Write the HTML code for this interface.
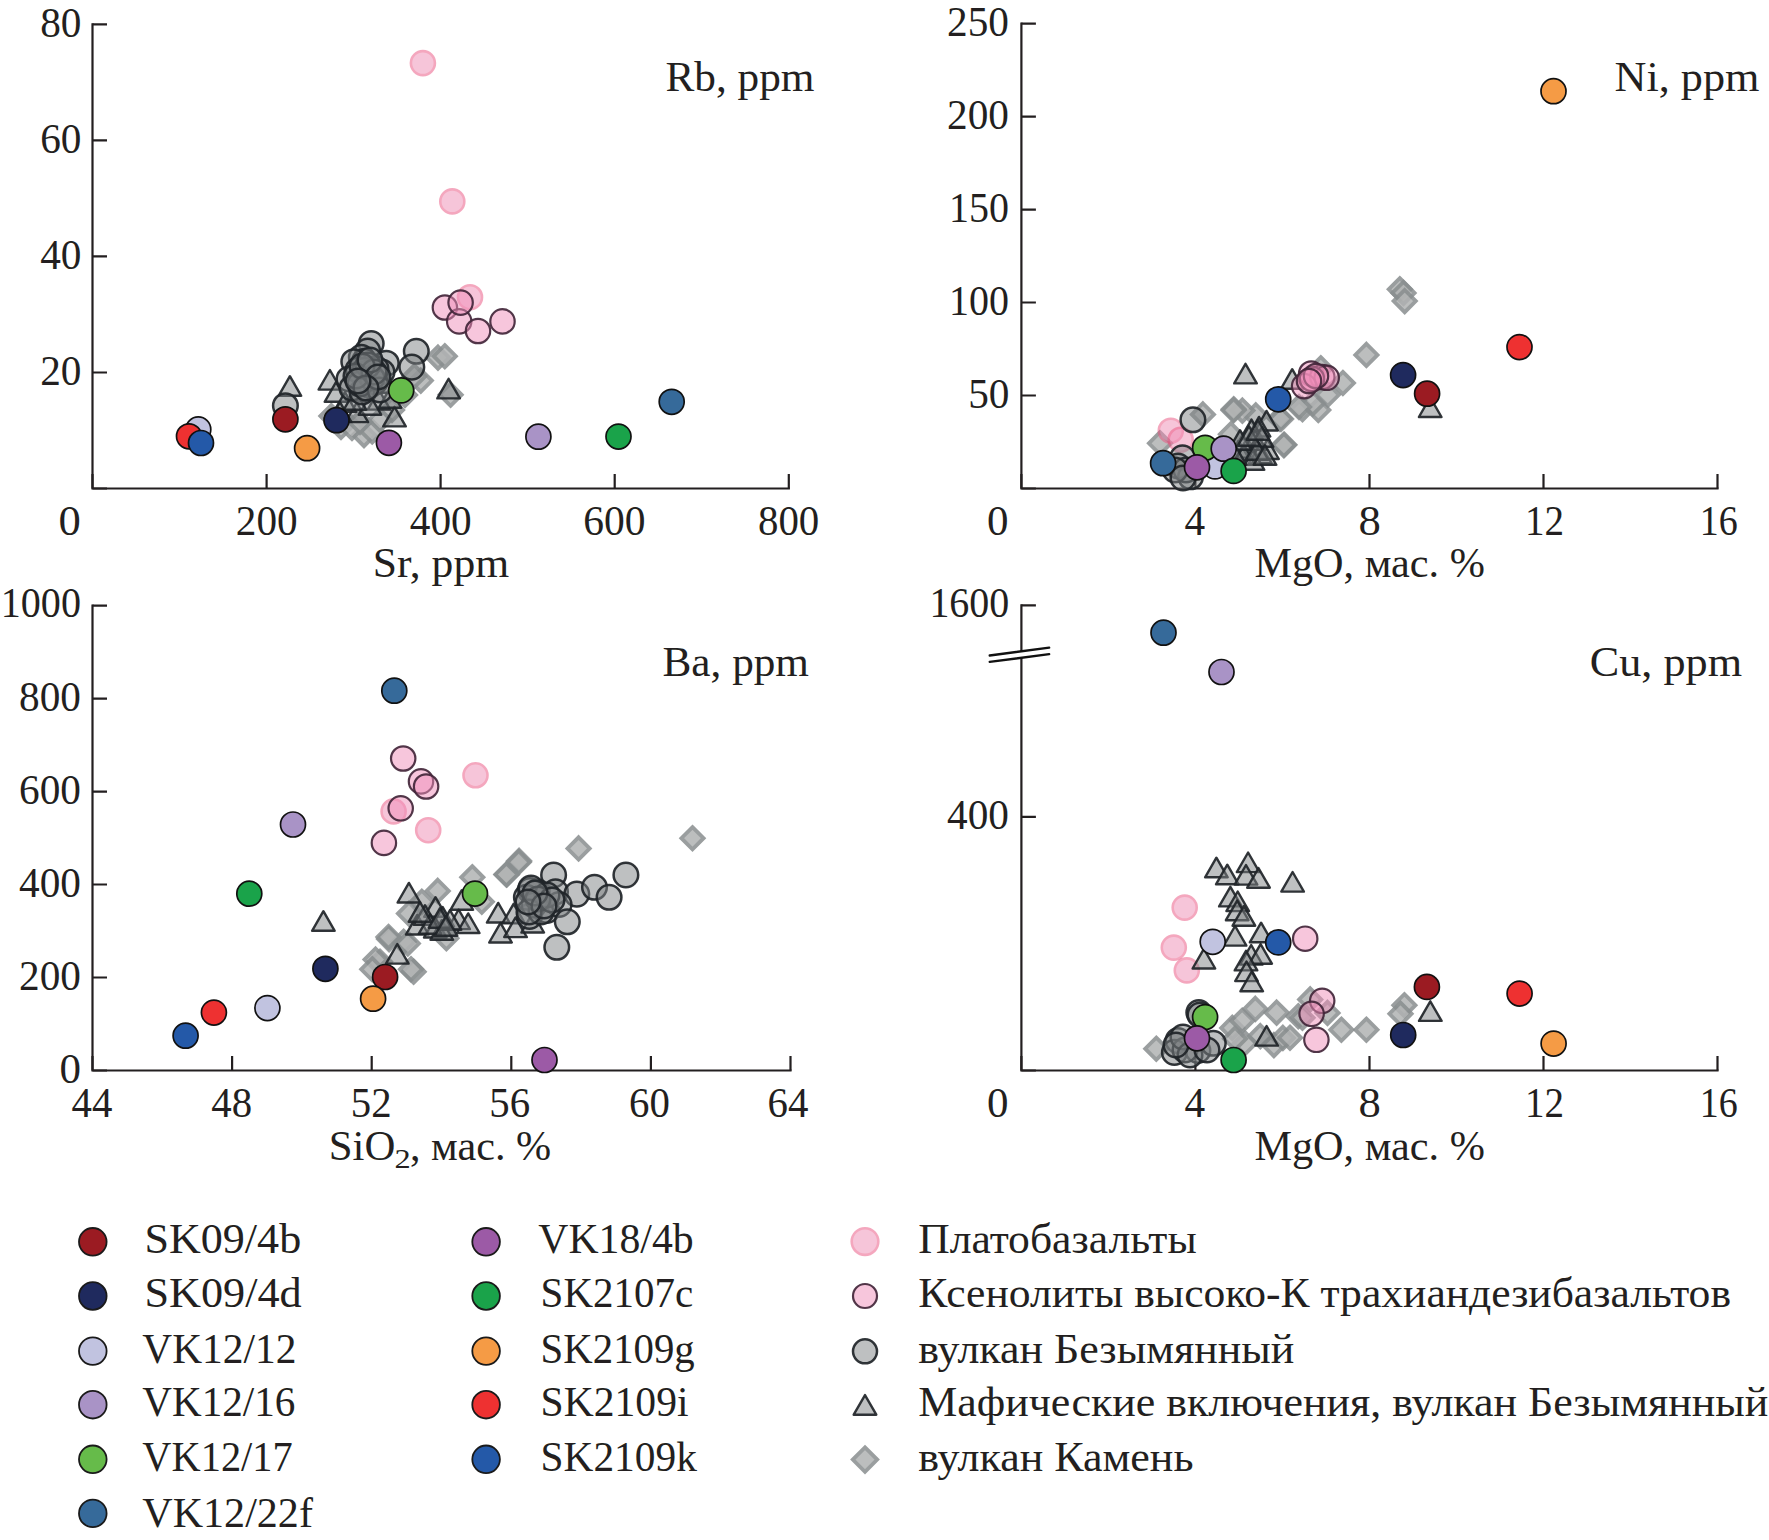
<!DOCTYPE html>
<html><head><meta charset="utf-8"><style>
html,body{margin:0;padding:0;background:#fff;}
svg{display:block;}
.dm{fill:rgb(177,179,179);stroke:rgb(137,142,143);stroke-width:3.8;opacity:0.85;stroke-linejoin:miter}
.tr{fill:rgb(126,129,132);fill-opacity:0.5;stroke:#202428;stroke-opacity:0.92;stroke-width:2.4;stroke-linejoin:round}
.gc{fill:rgb(126,129,132);fill-opacity:0.5;stroke:#202428;stroke-opacity:0.92;stroke-width:2.5}
.pl{fill:rgb(239,141,181);stroke:rgb(235,82,127);stroke-width:2.6;opacity:0.5}
.xe{fill:rgb(239,141,185);fill-opacity:0.5;stroke:#42263a;stroke-opacity:0.92;stroke-width:2.2}
.cc{stroke:#111;stroke-width:1.7}
text{font-family:"Liberation Serif",serif;fill:#231f20;}
</style></head><body>
<svg width="1769" height="1540" viewBox="0 0 1769 1540">
<rect width="1769" height="1540" fill="#fff"/>
<path d="M92.5,24.4 V488.5 H788.8" fill="none" stroke="#231f20" stroke-width="2.2" stroke-linecap="square"/>
<path d="M92.5,488.5 V474.0M266.6,488.5 V474.0M440.6,488.5 V474.0M614.7,488.5 V474.0M788.8,488.5 V474.0M92.5,488.5 H107.0M92.5,372.5 H107.0M92.5,256.4 H107.0M92.5,140.4 H107.0M92.5,24.4 H107.0" fill="none" stroke="#231f20" stroke-width="2.2"/>
<path d="M1021.4,23.6 V488.5 H1717.5" fill="none" stroke="#231f20" stroke-width="2.2" stroke-linecap="square"/>
<path d="M1021.4,488.5 V474.0M1195.4,488.5 V474.0M1369.5,488.5 V474.0M1543.5,488.5 V474.0M1717.5,488.5 V474.0M1021.4,488.5 H1035.9M1021.4,395.5 H1035.9M1021.4,302.5 H1035.9M1021.4,209.6 H1035.9M1021.4,116.6 H1035.9M1021.4,23.6 H1035.9" fill="none" stroke="#231f20" stroke-width="2.2"/>
<path d="M92.5,605.6 V1070.5 H790.5" fill="none" stroke="#231f20" stroke-width="2.2" stroke-linecap="square"/>
<path d="M92.5,1070.5 V1056.0M232.1,1070.5 V1056.0M371.7,1070.5 V1056.0M511.3,1070.5 V1056.0M650.9,1070.5 V1056.0M790.5,1070.5 V1056.0M92.5,1070.5 H107.0M92.5,977.5 H107.0M92.5,884.5 H107.0M92.5,791.6 H107.0M92.5,698.6 H107.0M92.5,605.6 H107.0" fill="none" stroke="#231f20" stroke-width="2.2"/>
<path d="M1021.4,605.4 V1070.5 H1717.5" fill="none" stroke="#231f20" stroke-width="2.2" stroke-linecap="square"/>
<path d="M1021.4,1070.5 V1056.0M1195.4,1070.5 V1056.0M1369.5,1070.5 V1056.0M1543.5,1070.5 V1056.0M1717.5,1070.5 V1056.0M1021.4,1070.5 H1035.9" fill="none" stroke="#231f20" stroke-width="2.2"/>
<path d="M1021.4,816.8 H1035.9 M1021.4,605.4 H1035.9" stroke="#231f20" stroke-width="2.2"/>
<text transform="translate(40.14,36.60) scale(0.9600,1)" font-size="43">80</text>
<text transform="translate(40.14,152.70) scale(0.9600,1)" font-size="43">60</text>
<text transform="translate(40.14,268.80) scale(0.9600,1)" font-size="43">40</text>
<text transform="translate(40.14,384.80) scale(0.9600,1)" font-size="43">20</text>
<text transform="translate(58.52,535.40) scale(1.0389,1)" font-size="43">0</text>
<text transform="translate(235.78,535.40) scale(0.9590,1)" font-size="43">200</text>
<text transform="translate(409.84,535.40) scale(0.9597,1)" font-size="43">400</text>
<text transform="translate(583.37,535.40) scale(0.9656,1)" font-size="43">600</text>
<text transform="translate(758.00,535.40) scale(0.9508,1)" font-size="43">800</text>
<text transform="translate(372.76,576.60) scale(1.0145,1)" font-size="43">Sr, ppm</text>
<text transform="translate(665.49,90.90) scale(1.0061,1)" font-size="43">Rb, ppm</text>
<text transform="translate(947.02,35.80) scale(0.9600,1)" font-size="43">250</text>
<text transform="translate(947.02,128.78) scale(0.9600,1)" font-size="43">200</text>
<text transform="translate(948.91,221.76) scale(0.9300,1)" font-size="43">150</text>
<text transform="translate(948.91,314.74) scale(0.9300,1)" font-size="43">100</text>
<text transform="translate(968.14,407.72) scale(0.9600,1)" font-size="43">50</text>
<text transform="translate(987.00,535.40) scale(1.0000,1)" font-size="43">0</text>
<text transform="translate(1184.44,535.40) scale(0.9600,1)" font-size="43">4</text>
<text transform="translate(1358.52,535.40) scale(1.0389,1)" font-size="43">8</text>
<text transform="translate(1524.97,535.40) scale(0.9081,1)" font-size="43">12</text>
<text transform="translate(1699.76,535.40) scale(0.8842,1)" font-size="43">16</text>
<text transform="translate(1254.42,576.70) scale(0.9819,1)" font-size="43">MgO, мас. %</text>
<text transform="translate(1614.57,90.90) scale(1.0281,1)" font-size="43">Ni, ppm</text>
<text transform="translate(0.77,617.00) scale(0.9325,1)" font-size="43">1000</text>
<text transform="translate(19.02,710.78) scale(0.9600,1)" font-size="43">800</text>
<text transform="translate(19.02,803.76) scale(0.9600,1)" font-size="43">600</text>
<text transform="translate(19.02,896.74) scale(0.9600,1)" font-size="43">400</text>
<text transform="translate(19.02,989.72) scale(0.9600,1)" font-size="43">200</text>
<text transform="translate(59.50,1082.70) scale(1.0000,1)" font-size="43">0</text>
<text transform="translate(71.58,1116.80) scale(0.9500,1)" font-size="43">44</text>
<text transform="translate(211.35,1116.80) scale(0.9500,1)" font-size="43">48</text>
<text transform="translate(350.80,1116.80) scale(0.9500,1)" font-size="43">52</text>
<text transform="translate(489.23,1116.80) scale(0.9500,1)" font-size="43">56</text>
<text transform="translate(629.08,1116.80) scale(0.9500,1)" font-size="43">60</text>
<text transform="translate(767.50,1116.80) scale(0.9500,1)" font-size="43">64</text>
<text transform="translate(328.81,1159.70) scale(0.9952,1)" font-size="43">SiO</text>
<text transform="translate(394.50,1168.30) scale(1.2000,1)" font-size="27">2</text>
<text transform="translate(409.94,1159.70) scale(0.9814,1)" font-size="43">, мас. %</text>
<text transform="translate(662.49,675.70) scale(1.0056,1)" font-size="43">Ba, ppm</text>
<text transform="translate(929.38,617.30) scale(0.9300,1)" font-size="43">1600</text>
<text transform="translate(947.02,828.50) scale(0.9600,1)" font-size="43">400</text>
<text transform="translate(987.00,1116.80) scale(1.0000,1)" font-size="43">0</text>
<text transform="translate(1184.44,1116.80) scale(0.9600,1)" font-size="43">4</text>
<text transform="translate(1358.52,1116.80) scale(1.0389,1)" font-size="43">8</text>
<text transform="translate(1524.97,1116.80) scale(0.9081,1)" font-size="43">12</text>
<text transform="translate(1699.76,1116.80) scale(0.8842,1)" font-size="43">16</text>
<text transform="translate(1254.42,1159.70) scale(0.9819,1)" font-size="43">MgO, мас. %</text>
<text transform="translate(1589.74,676.00) scale(1.0288,1)" font-size="43">Cu, ppm</text>
<text transform="translate(144.39,1252.90) scale(1.0381,1)" font-size="42.5">SK09/4b</text>
<text transform="translate(144.38,1307.00) scale(1.0412,1)" font-size="42.5">SK09/4d</text>
<text transform="translate(142.30,1362.60) scale(0.9744,1)" font-size="42.5">VK12/12</text>
<text transform="translate(142.30,1415.80) scale(0.9682,1)" font-size="42.5">VK12/16</text>
<text transform="translate(142.30,1470.60) scale(0.9516,1)" font-size="42.5">VK12/17</text>
<text transform="translate(142.30,1526.70) scale(0.9902,1)" font-size="42.5">VK12/22f</text>
<text transform="translate(538.30,1252.90) scale(0.9828,1)" font-size="42.5">VK18/4b</text>
<text transform="translate(540.61,1307.00) scale(0.9649,1)" font-size="42.5">SK2107c</text>
<text transform="translate(540.62,1362.60) scale(0.9599,1)" font-size="42.5">SK2109g</text>
<text transform="translate(540.56,1416.00) scale(0.9796,1)" font-size="42.5">SK2109i</text>
<text transform="translate(540.58,1470.60) scale(0.9734,1)" font-size="42.5">SK2109k</text>
<text transform="translate(918.17,1252.90) scale(1.0259,1)" font-size="42.5">Платобазальты</text>
<text transform="translate(918.17,1307.00) scale(1.0259,1)" font-size="42.5">Ксенолиты высоко-К трахиандезибазальтов</text>
<text transform="translate(918.17,1362.60) scale(1.0337,1)" font-size="42.5">вулкан Безымянный</text>
<text transform="translate(918.17,1415.80) scale(1.0338,1)" font-size="42.5">Мафические включения, вулкан Безымянный</text>
<text transform="translate(918.16,1470.60) scale(1.0352,1)" font-size="42.5">вулкан Камень</text>
<polygon points="989.7,655.5 1049.2,647.6 1049.2,654.2 989.7,661.9" fill="#fff"/>
<path d="M989.7,655.5 L1049.2,647.6 M989.7,661.9 L1049.2,654.2" stroke="#111" stroke-width="2.3" stroke-linecap="round"/>
<path d="M438.0,346.5 L449.1,357.6 L438.0,368.7 L426.9,357.6Z" class="dm"/>
<path d="M444.8,345.1 L455.9,356.2 L444.8,367.3 L433.7,356.2Z" class="dm"/>
<path d="M420.8,369.5 L431.9,380.6 L420.8,391.7 L409.7,380.6Z" class="dm"/>
<path d="M450.6,383.6 L461.7,394.7 L450.6,405.8 L439.5,394.7Z" class="dm"/>
<path d="M414.3,365.2 L425.4,376.3 L414.3,387.4 L403.2,376.3Z" class="dm"/>
<path d="M331.4,405.0 L342.5,416.1 L331.4,427.2 L320.3,416.1Z" class="dm"/>
<path d="M341.0,415.9 L352.1,427.0 L341.0,438.1 L329.9,427.0Z" class="dm"/>
<path d="M364.0,424.0 L375.1,435.1 L364.0,446.2 L352.9,435.1Z" class="dm"/>
<path d="M372.2,420.4 L383.3,431.5 L372.2,442.6 L361.1,431.5Z" class="dm"/>
<path d="M352.0,416.9 L363.1,428.0 L352.0,439.1 L340.9,428.0Z" class="dm"/>
<path d="M380.0,408.9 L391.1,420.0 L380.0,431.1 L368.9,420.0Z" class="dm"/>
<path d="M360.0,410.9 L371.1,422.0 L360.0,433.1 L348.9,422.0Z" class="dm"/>
<path d="M392.0,398.9 L403.1,410.0 L392.0,421.1 L380.9,410.0Z" class="dm"/>
<path d="M405.0,383.9 L416.1,395.0 L405.0,406.1 L393.9,395.0Z" class="dm"/>
<path d="M1399.8,278.2 L1410.9,289.3 L1399.8,300.4 L1388.7,289.3Z" class="dm"/>
<path d="M1403.5,281.9 L1414.6,293.0 L1403.5,304.1 L1392.4,293.0Z" class="dm"/>
<path d="M1404.7,290.0 L1415.8,301.1 L1404.7,312.2 L1393.6,301.1Z" class="dm"/>
<path d="M1366.4,343.8 L1377.5,354.9 L1366.4,366.0 L1355.3,354.9Z" class="dm"/>
<path d="M1320.8,357.1 L1331.9,368.2 L1320.8,379.3 L1309.7,368.2Z" class="dm"/>
<path d="M1342.9,371.9 L1354.0,383.0 L1342.9,394.1 L1331.8,383.0Z" class="dm"/>
<path d="M1327.8,383.7 L1338.9,394.8 L1327.8,405.9 L1316.7,394.8Z" class="dm"/>
<path d="M1302.5,398.0 L1313.6,409.1 L1302.5,420.2 L1291.4,409.1Z" class="dm"/>
<path d="M1318.3,398.8 L1329.4,409.9 L1318.3,421.0 L1307.2,409.9Z" class="dm"/>
<path d="M1312.8,392.4 L1323.9,403.5 L1312.8,414.6 L1301.7,403.5Z" class="dm"/>
<path d="M1279.6,407.5 L1290.7,418.6 L1279.6,429.7 L1268.5,418.6Z" class="dm"/>
<path d="M1284.3,433.6 L1295.4,444.7 L1284.3,455.8 L1273.2,444.7Z" class="dm"/>
<path d="M1255.8,404.3 L1266.9,415.4 L1255.8,426.5 L1244.7,415.4Z" class="dm"/>
<path d="M1242.4,399.5 L1253.5,410.6 L1242.4,421.7 L1231.3,410.6Z" class="dm"/>
<path d="M1233.7,398.2 L1244.8,409.3 L1233.7,420.4 L1222.6,409.3Z" class="dm"/>
<path d="M1202.9,403.3 L1214.0,414.4 L1202.9,425.5 L1191.8,414.4Z" class="dm"/>
<path d="M1233.6,399.2 L1244.7,410.3 L1233.6,421.4 L1222.5,410.3Z" class="dm"/>
<path d="M1160.0,432.2 L1171.1,443.3 L1160.0,454.4 L1148.9,443.3Z" class="dm"/>
<path d="M1283.8,434.0 L1294.9,445.1 L1283.8,456.2 L1272.7,445.1Z" class="dm"/>
<path d="M1281.0,407.8 L1292.1,418.9 L1281.0,430.0 L1269.9,418.9Z" class="dm"/>
<path d="M1230.9,423.2 L1242.0,434.3 L1230.9,445.4 L1219.8,434.3Z" class="dm"/>
<path d="M1299.0,395.9 L1310.1,407.0 L1299.0,418.1 L1287.9,407.0Z" class="dm"/>
<path d="M692.5,827.1 L703.6,838.2 L692.5,849.3 L681.4,838.2Z" class="dm"/>
<path d="M578.6,837.3 L589.7,848.4 L578.6,859.5 L567.5,848.4Z" class="dm"/>
<path d="M519.1,849.8 L530.2,860.9 L519.1,872.0 L508.0,860.9Z" class="dm"/>
<path d="M506.8,863.4 L517.9,874.5 L506.8,885.6 L495.7,874.5Z" class="dm"/>
<path d="M518.7,851.2 L529.8,862.3 L518.7,873.4 L507.6,862.3Z" class="dm"/>
<path d="M472.3,866.2 L483.4,877.3 L472.3,888.4 L461.2,877.3Z" class="dm"/>
<path d="M506.4,863.4 L517.5,874.5 L506.4,885.6 L495.3,874.5Z" class="dm"/>
<path d="M437.7,879.8 L448.8,890.9 L437.7,902.0 L426.6,890.9Z" class="dm"/>
<path d="M421.8,890.7 L432.9,901.8 L421.8,912.9 L410.7,901.8Z" class="dm"/>
<path d="M446.4,927.1 L457.5,938.2 L446.4,949.3 L435.3,938.2Z" class="dm"/>
<path d="M389.1,928.0 L400.2,939.1 L389.1,950.2 L378.0,939.1Z" class="dm"/>
<path d="M403.6,930.7 L414.7,941.8 L403.6,952.9 L392.5,941.8Z" class="dm"/>
<path d="M380.0,950.7 L391.1,961.8 L380.0,972.9 L368.9,961.8Z" class="dm"/>
<path d="M413.6,960.7 L424.7,971.8 L413.6,982.9 L402.5,971.8Z" class="dm"/>
<path d="M481.8,890.7 L492.9,901.8 L481.8,912.9 L470.7,901.8Z" class="dm"/>
<path d="M409.0,902.5 L420.1,913.6 L409.0,924.7 L397.9,913.6Z" class="dm"/>
<path d="M388.5,925.9 L399.6,937.0 L388.5,948.1 L377.4,937.0Z" class="dm"/>
<path d="M375.6,948.5 L386.7,959.6 L375.6,970.7 L364.5,959.6Z" class="dm"/>
<path d="M411.0,958.2 L422.1,969.3 L411.0,980.4 L399.9,969.3Z" class="dm"/>
<path d="M407.8,932.4 L418.9,943.5 L407.8,954.6 L396.7,943.5Z" class="dm"/>
<path d="M372.3,958.2 L383.4,969.3 L372.3,980.4 L361.2,969.3Z" class="dm"/>
<path d="M1156.3,1037.6 L1167.4,1048.7 L1156.3,1059.8 L1145.2,1048.7Z" class="dm"/>
<path d="M1255.3,997.8 L1266.4,1008.9 L1255.3,1020.0 L1244.2,1008.9Z" class="dm"/>
<path d="M1276.6,1001.5 L1287.7,1012.6 L1276.6,1023.7 L1265.5,1012.6Z" class="dm"/>
<path d="M1232.3,1016.8 L1243.4,1027.9 L1232.3,1039.0 L1221.2,1027.9Z" class="dm"/>
<path d="M1242.2,1009.6 L1253.3,1020.7 L1242.2,1031.8 L1231.1,1020.7Z" class="dm"/>
<path d="M1244.9,1032.2 L1256.0,1043.3 L1244.9,1054.4 L1233.8,1043.3Z" class="dm"/>
<path d="M1273.9,1034.0 L1285.0,1045.1 L1273.9,1056.2 L1262.8,1045.1Z" class="dm"/>
<path d="M1282.9,1026.8 L1294.0,1037.9 L1282.9,1049.0 L1271.8,1037.9Z" class="dm"/>
<path d="M1260.3,1025.0 L1271.4,1036.1 L1260.3,1047.2 L1249.2,1036.1Z" class="dm"/>
<path d="M1235.0,1027.7 L1246.1,1038.8 L1235.0,1049.9 L1223.9,1038.8Z" class="dm"/>
<path d="M1298.3,1005.1 L1309.4,1016.2 L1298.3,1027.3 L1287.2,1016.2Z" class="dm"/>
<path d="M1341.4,1018.6 L1352.5,1029.7 L1341.4,1040.8 L1330.3,1029.7Z" class="dm"/>
<path d="M1366.4,1018.6 L1377.5,1029.7 L1366.4,1040.8 L1355.3,1029.7Z" class="dm"/>
<path d="M1404.4,994.1 L1415.5,1005.2 L1404.4,1016.3 L1393.3,1005.2Z" class="dm"/>
<path d="M1400.5,1002.7 L1411.6,1013.8 L1400.5,1024.9 L1389.4,1013.8Z" class="dm"/>
<path d="M1310.2,988.3 L1321.3,999.4 L1310.2,1010.5 L1299.1,999.4Z" class="dm"/>
<path d="M1302.5,1006.6 L1313.6,1017.7 L1302.5,1028.8 L1291.4,1017.7Z" class="dm"/>
<path d="M1327.5,1001.8 L1338.6,1012.9 L1327.5,1024.0 L1316.4,1012.9Z" class="dm"/>
<path d="M1290.0,1026.7 L1301.1,1037.8 L1290.0,1048.9 L1278.9,1037.8Z" class="dm"/>
<circle cx="422.9" cy="63.1" r="12.0" class="pl"/>
<circle cx="452.3" cy="201.4" r="12.0" class="pl"/>
<circle cx="470" cy="297.2" r="12.0" class="pl"/>
<circle cx="1170.8" cy="430.7" r="12.0" class="pl"/>
<circle cx="1180.7" cy="439.7" r="12.0" class="pl"/>
<circle cx="475.5" cy="775.3" r="12.0" class="pl"/>
<circle cx="393.6" cy="811.4" r="12.0" class="pl"/>
<circle cx="428.2" cy="830.2" r="12.0" class="pl"/>
<circle cx="1184.7" cy="907.6" r="12.0" class="pl"/>
<circle cx="1173.8" cy="947.6" r="12.0" class="pl"/>
<circle cx="1186.8" cy="970.4" r="12.0" class="pl"/>
<path d="M289.9,376.2 L301.2,395.8 L278.6,395.8Z" class="tr"/>
<path d="M329.9,370.0 L341.2,389.6 L318.6,389.6Z" class="tr"/>
<path d="M394.5,406.8 L405.8,426.4 L383.2,426.4Z" class="tr"/>
<path d="M356.8,402.5 L368.1,422.1 L345.5,422.1Z" class="tr"/>
<path d="M379.0,390.0 L390.3,409.6 L367.7,409.6Z" class="tr"/>
<path d="M358.6,381.6 L369.9,401.2 L347.3,401.2Z" class="tr"/>
<path d="M448.6,378.8 L459.9,398.4 L437.3,398.4Z" class="tr"/>
<path d="M336.0,382.2 L347.3,401.8 L324.7,401.8Z" class="tr"/>
<path d="M345.0,392.2 L356.3,411.8 L333.7,411.8Z" class="tr"/>
<path d="M370.0,395.2 L381.3,414.8 L358.7,414.8Z" class="tr"/>
<path d="M390.0,388.2 L401.3,407.8 L378.7,407.8Z" class="tr"/>
<path d="M340.0,402.2 L351.3,421.8 L328.7,421.8Z" class="tr"/>
<path d="M386.0,373.2 L397.3,392.8 L374.7,392.8Z" class="tr"/>
<path d="M355.0,390.2 L366.3,409.8 L343.7,409.8Z" class="tr"/>
<path d="M1245.5,363.8 L1256.8,383.4 L1234.2,383.4Z" class="tr"/>
<path d="M1292.2,369.2 L1303.5,388.8 L1280.9,388.8Z" class="tr"/>
<path d="M1430.2,397.4 L1441.5,417.0 L1418.9,417.0Z" class="tr"/>
<path d="M1266.5,410.9 L1277.8,430.5 L1255.2,430.5Z" class="tr"/>
<path d="M1259.0,416.9 L1270.3,436.5 L1247.7,436.5Z" class="tr"/>
<path d="M1251.5,419.6 L1262.8,439.2 L1240.2,439.2Z" class="tr"/>
<path d="M1238.6,440.7 L1249.9,460.3 L1227.3,460.3Z" class="tr"/>
<path d="M1247.2,438.0 L1258.5,457.6 L1235.9,457.6Z" class="tr"/>
<path d="M1260.3,443.5 L1271.6,463.1 L1249.0,463.1Z" class="tr"/>
<path d="M1267.5,439.4 L1278.8,459.0 L1256.2,459.0Z" class="tr"/>
<path d="M1255.0,430.2 L1266.3,449.8 L1243.7,449.8Z" class="tr"/>
<path d="M1244.0,445.2 L1255.3,464.8 L1232.7,464.8Z" class="tr"/>
<path d="M1262.0,427.2 L1273.3,446.8 L1250.7,446.8Z" class="tr"/>
<path d="M1253.0,450.2 L1264.3,469.8 L1241.7,469.8Z" class="tr"/>
<path d="M1240.0,430.2 L1251.3,449.8 L1228.7,449.8Z" class="tr"/>
<path d="M1257.0,440.2 L1268.3,459.8 L1245.7,459.8Z" class="tr"/>
<path d="M1249.0,426.2 L1260.3,445.8 L1237.7,445.8Z" class="tr"/>
<path d="M1265.0,445.2 L1276.3,464.8 L1253.7,464.8Z" class="tr"/>
<path d="M1235.0,445.2 L1246.3,464.8 L1223.7,464.8Z" class="tr"/>
<path d="M1258.0,420.2 L1269.3,439.8 L1246.7,439.8Z" class="tr"/>
<path d="M323.4,911.2 L334.7,930.8 L312.1,930.8Z" class="tr"/>
<path d="M397.3,944.0 L408.6,963.6 L386.0,963.6Z" class="tr"/>
<path d="M408.9,882.9 L420.2,902.5 L397.6,902.5Z" class="tr"/>
<path d="M435.5,897.2 L446.8,916.8 L424.2,916.8Z" class="tr"/>
<path d="M442.7,907.0 L454.0,926.6 L431.4,926.6Z" class="tr"/>
<path d="M417.3,914.9 L428.6,934.5 L406.0,934.5Z" class="tr"/>
<path d="M435.3,917.9 L446.6,937.5 L424.0,937.5Z" class="tr"/>
<path d="M458.6,909.5 L469.9,929.1 L447.3,929.1Z" class="tr"/>
<path d="M468.2,913.4 L479.5,933.0 L456.9,933.0Z" class="tr"/>
<path d="M461.8,890.2 L473.1,909.8 L450.5,909.8Z" class="tr"/>
<path d="M498.2,902.9 L509.5,922.5 L486.9,922.5Z" class="tr"/>
<path d="M500.5,922.9 L511.8,942.5 L489.2,942.5Z" class="tr"/>
<path d="M441.8,920.2 L453.1,939.8 L430.5,939.8Z" class="tr"/>
<path d="M513.6,903.8 L524.9,923.4 L502.3,923.4Z" class="tr"/>
<path d="M515.5,917.5 L526.8,937.1 L504.2,937.1Z" class="tr"/>
<path d="M532.7,912.9 L544.0,932.5 L521.4,932.5Z" class="tr"/>
<path d="M425.0,905.2 L436.3,924.8 L413.7,924.8Z" class="tr"/>
<path d="M450.0,910.2 L461.3,929.8 L438.7,929.8Z" class="tr"/>
<path d="M430.0,914.2 L441.3,933.8 L418.7,933.8Z" class="tr"/>
<path d="M440.0,908.2 L451.3,927.8 L428.7,927.8Z" class="tr"/>
<path d="M420.0,902.2 L431.3,921.8 L408.7,921.8Z" class="tr"/>
<path d="M446.0,916.2 L457.3,935.8 L434.7,935.8Z" class="tr"/>
<path d="M1216.4,857.7 L1227.7,877.3 L1205.1,877.3Z" class="tr"/>
<path d="M1248.1,852.5 L1259.4,872.1 L1236.8,872.1Z" class="tr"/>
<path d="M1227.3,864.7 L1238.6,884.3 L1216.0,884.3Z" class="tr"/>
<path d="M1246.0,865.0 L1257.3,884.6 L1234.7,884.6Z" class="tr"/>
<path d="M1258.5,868.1 L1269.8,887.7 L1247.2,887.7Z" class="tr"/>
<path d="M1292.6,872.0 L1303.9,891.6 L1281.3,891.6Z" class="tr"/>
<path d="M1230.4,886.8 L1241.7,906.4 L1219.1,906.4Z" class="tr"/>
<path d="M1237.7,891.5 L1249.0,911.1 L1226.4,911.1Z" class="tr"/>
<path d="M1237.2,900.6 L1248.5,920.2 L1225.9,920.2Z" class="tr"/>
<path d="M1243.9,906.1 L1255.2,925.7 L1232.6,925.7Z" class="tr"/>
<path d="M1235.1,926.0 L1246.4,945.6 L1223.8,945.6Z" class="tr"/>
<path d="M1261.1,922.7 L1272.4,942.3 L1249.8,942.3Z" class="tr"/>
<path d="M1203.9,948.9 L1215.2,968.5 L1192.6,968.5Z" class="tr"/>
<path d="M1251.2,945.0 L1262.5,964.6 L1239.9,964.6Z" class="tr"/>
<path d="M1260.6,944.1 L1271.9,963.7 L1249.3,963.7Z" class="tr"/>
<path d="M1246.0,950.8 L1257.3,970.4 L1234.7,970.4Z" class="tr"/>
<path d="M1246.5,961.5 L1257.8,981.1 L1235.2,981.1Z" class="tr"/>
<path d="M1251.7,971.7 L1263.0,991.3 L1240.4,991.3Z" class="tr"/>
<path d="M1266.6,1026.0 L1277.9,1045.6 L1255.3,1045.6Z" class="tr"/>
<path d="M1430.3,1001.3 L1441.6,1020.9 L1419.0,1020.9Z" class="tr"/>
<circle cx="285.4" cy="405.7" r="12.3" class="gc"/>
<circle cx="371.2" cy="343.5" r="12.3" class="gc"/>
<circle cx="367.7" cy="351" r="12.3" class="gc"/>
<circle cx="361.3" cy="357.3" r="12.3" class="gc"/>
<circle cx="364.5" cy="361.3" r="12.3" class="gc"/>
<circle cx="353.8" cy="361.7" r="12.3" class="gc"/>
<circle cx="386.3" cy="363.2" r="12.3" class="gc"/>
<circle cx="382" cy="372" r="12.3" class="gc"/>
<circle cx="364.5" cy="374.3" r="12.3" class="gc"/>
<circle cx="349" cy="379" r="12.3" class="gc"/>
<circle cx="369.6" cy="385.4" r="12.3" class="gc"/>
<circle cx="367.3" cy="380.6" r="12.3" class="gc"/>
<circle cx="416.3" cy="351.3" r="12.3" class="gc"/>
<circle cx="411.8" cy="367.1" r="12.3" class="gc"/>
<circle cx="376" cy="368.8" r="12.3" class="gc"/>
<circle cx="358" cy="370" r="12.3" class="gc"/>
<circle cx="375" cy="382" r="12.3" class="gc"/>
<circle cx="352" cy="388" r="12.3" class="gc"/>
<circle cx="362" cy="392" r="12.3" class="gc"/>
<circle cx="365" cy="370" r="12.3" class="gc"/>
<circle cx="372" cy="378" r="12.3" class="gc"/>
<circle cx="360" cy="384" r="12.3" class="gc"/>
<circle cx="380" cy="390" r="12.3" class="gc"/>
<circle cx="368" cy="365" r="12.3" class="gc"/>
<circle cx="356" cy="376" r="12.3" class="gc"/>
<circle cx="374" cy="372" r="12.3" class="gc"/>
<circle cx="362" cy="366" r="12.3" class="gc"/>
<circle cx="370" cy="360" r="12.3" class="gc"/>
<circle cx="378" cy="377" r="12.3" class="gc"/>
<circle cx="366" cy="388" r="12.3" class="gc"/>
<circle cx="358" cy="381" r="12.3" class="gc"/>
<circle cx="1192.9" cy="419.8" r="12.3" class="gc"/>
<circle cx="1182.5" cy="457.8" r="12.3" class="gc"/>
<circle cx="1178" cy="466" r="12.3" class="gc"/>
<circle cx="1190.6" cy="476.8" r="12.3" class="gc"/>
<circle cx="1186" cy="470" r="12.3" class="gc"/>
<circle cx="1175" cy="470" r="12.3" class="gc"/>
<circle cx="1183" cy="478" r="12.3" class="gc"/>
<circle cx="553.6" cy="875" r="12.3" class="gc"/>
<circle cx="530" cy="890.5" r="12.3" class="gc"/>
<circle cx="537.3" cy="891.8" r="12.3" class="gc"/>
<circle cx="555.5" cy="891.8" r="12.3" class="gc"/>
<circle cx="576.8" cy="894.1" r="12.3" class="gc"/>
<circle cx="594.5" cy="887.3" r="12.3" class="gc"/>
<circle cx="609.1" cy="897.3" r="12.3" class="gc"/>
<circle cx="625.9" cy="875" r="12.3" class="gc"/>
<circle cx="529.5" cy="916.4" r="12.3" class="gc"/>
<circle cx="546.8" cy="910.5" r="12.3" class="gc"/>
<circle cx="559.1" cy="904.5" r="12.3" class="gc"/>
<circle cx="567.3" cy="921.8" r="12.3" class="gc"/>
<circle cx="556.8" cy="947.3" r="12.3" class="gc"/>
<circle cx="526.4" cy="897.3" r="12.3" class="gc"/>
<circle cx="531" cy="888" r="12.3" class="gc"/>
<circle cx="534" cy="905" r="12.3" class="gc"/>
<circle cx="541" cy="912" r="12.3" class="gc"/>
<circle cx="547" cy="895" r="12.3" class="gc"/>
<circle cx="538" cy="899" r="12.3" class="gc"/>
<circle cx="529" cy="912" r="12.3" class="gc"/>
<circle cx="552" cy="900" r="12.3" class="gc"/>
<circle cx="535" cy="893" r="12.3" class="gc"/>
<circle cx="544" cy="906" r="12.3" class="gc"/>
<circle cx="528" cy="902" r="12.3" class="gc"/>
<circle cx="1198.8" cy="1012.6" r="12.3" class="gc"/>
<circle cx="1178" cy="1040.6" r="12.3" class="gc"/>
<circle cx="1174.4" cy="1052.4" r="12.3" class="gc"/>
<circle cx="1197.9" cy="1050.5" r="12.3" class="gc"/>
<circle cx="1213.3" cy="1043.3" r="12.3" class="gc"/>
<circle cx="1185" cy="1050" r="12.3" class="gc"/>
<circle cx="1183" cy="1037" r="12.3" class="gc"/>
<circle cx="1190" cy="1055" r="12.3" class="gc"/>
<circle cx="1207" cy="1050" r="12.3" class="gc"/>
<circle cx="1200" cy="1015" r="12.3" class="gc"/>
<circle cx="1176" cy="1045" r="12.3" class="gc"/>
<circle cx="444.9" cy="307.5" r="12.2" class="xe"/>
<circle cx="459.2" cy="321.4" r="12.2" class="xe"/>
<circle cx="478" cy="331" r="12.2" class="xe"/>
<circle cx="502.5" cy="321.4" r="12.2" class="xe"/>
<circle cx="460.6" cy="302.6" r="12.2" class="xe"/>
<circle cx="1311.2" cy="373.5" r="12.2" class="xe"/>
<circle cx="1322.3" cy="377" r="12.2" class="xe"/>
<circle cx="1326.7" cy="377.8" r="12.2" class="xe"/>
<circle cx="1304.1" cy="386.1" r="12.2" class="xe"/>
<circle cx="1312" cy="379" r="12.2" class="xe"/>
<circle cx="1316" cy="376" r="12.2" class="xe"/>
<circle cx="1309" cy="381" r="12.2" class="xe"/>
<circle cx="403.2" cy="758.5" r="12.2" class="xe"/>
<circle cx="421" cy="781.4" r="12.2" class="xe"/>
<circle cx="426.1" cy="786.5" r="12.2" class="xe"/>
<circle cx="400.7" cy="808.3" r="12.2" class="xe"/>
<circle cx="383.9" cy="842.9" r="12.2" class="xe"/>
<circle cx="1305.2" cy="938.7" r="12.2" class="xe"/>
<circle cx="1322.2" cy="1000.8" r="12.2" class="xe"/>
<circle cx="1311.6" cy="1013.8" r="12.2" class="xe"/>
<circle cx="1316.4" cy="1039.8" r="12.2" class="xe"/>
<circle cx="198.3" cy="429.4" r="12.5" fill="#c1c3e0" class="cc"/>
<circle cx="189" cy="436.3" r="12.5" fill="#ee3131" class="cc"/>
<circle cx="201" cy="443" r="12.5" fill="#2459a8" class="cc"/>
<circle cx="285.4" cy="419.3" r="12.5" fill="#9b1b22" class="cc"/>
<circle cx="307.1" cy="448.2" r="12.5" fill="#f59b45" class="cc"/>
<circle cx="336.5" cy="420.2" r="12.5" fill="#1f2a5e" class="cc"/>
<circle cx="388.9" cy="442.8" r="12.5" fill="#9c5aa6" class="cc"/>
<circle cx="401.2" cy="390.4" r="12.5" fill="#66bb4a" class="cc"/>
<circle cx="538.4" cy="436.7" r="12.5" fill="#a993c6" class="cc"/>
<circle cx="618.5" cy="436.6" r="12.5" fill="#1aa34a" class="cc"/>
<circle cx="671.7" cy="401.8" r="12.5" fill="#366a9a" class="cc"/>
<circle cx="1553.5" cy="91.2" r="12.5" fill="#f59b45" class="cc"/>
<circle cx="1519.5" cy="347.1" r="12.5" fill="#ee3131" class="cc"/>
<circle cx="1403.1" cy="375.1" r="12.5" fill="#1f2a5e" class="cc"/>
<circle cx="1427.1" cy="393.7" r="12.5" fill="#9b1b22" class="cc"/>
<circle cx="1278.2" cy="399.3" r="12.5" fill="#2459a8" class="cc"/>
<circle cx="1163.1" cy="463.2" r="12.5" fill="#366a9a" class="cc"/>
<circle cx="1215" cy="466.4" r="12.5" fill="#c1c3e0" class="cc"/>
<circle cx="1205.1" cy="447.8" r="12.5" fill="#66bb4a" class="cc"/>
<circle cx="1223.7" cy="448.7" r="12.5" fill="#a993c6" class="cc"/>
<circle cx="1197" cy="467.3" r="12.5" fill="#9c5aa6" class="cc"/>
<circle cx="1233.6" cy="470.9" r="12.5" fill="#1aa34a" class="cc"/>
<circle cx="249.3" cy="893.7" r="12.5" fill="#1aa34a" class="cc"/>
<circle cx="325.4" cy="968.8" r="12.5" fill="#1f2a5e" class="cc"/>
<circle cx="213.9" cy="1012.6" r="12.5" fill="#ee3131" class="cc"/>
<circle cx="267.4" cy="1008.1" r="12.5" fill="#c1c3e0" class="cc"/>
<circle cx="185.6" cy="1035.7" r="12.5" fill="#2459a8" class="cc"/>
<circle cx="385.1" cy="977" r="12.5" fill="#9b1b22" class="cc"/>
<circle cx="373.1" cy="998.7" r="12.5" fill="#f59b45" class="cc"/>
<circle cx="394.3" cy="690.7" r="12.5" fill="#366a9a" class="cc"/>
<circle cx="293" cy="824.5" r="12.5" fill="#a993c6" class="cc"/>
<circle cx="475" cy="893.6" r="12.5" fill="#66bb4a" class="cc"/>
<circle cx="544.5" cy="1060" r="12.5" fill="#9c5aa6" class="cc"/>
<circle cx="1163.5" cy="632.7" r="12.5" fill="#366a9a" class="cc"/>
<circle cx="1221.5" cy="672" r="12.5" fill="#a993c6" class="cc"/>
<circle cx="1212.7" cy="941.8" r="12.5" fill="#c1c3e0" class="cc"/>
<circle cx="1278.2" cy="942.4" r="12.5" fill="#2459a8" class="cc"/>
<circle cx="1205.1" cy="1017.1" r="12.5" fill="#66bb4a" class="cc"/>
<circle cx="1197" cy="1038.3" r="12.5" fill="#9c5aa6" class="cc"/>
<circle cx="1233.6" cy="1060" r="12.5" fill="#1aa34a" class="cc"/>
<circle cx="1426.9" cy="986.9" r="12.5" fill="#9b1b22" class="cc"/>
<circle cx="1403.2" cy="1035" r="12.5" fill="#1f2a5e" class="cc"/>
<circle cx="1519.6" cy="993.6" r="12.5" fill="#ee3131" class="cc"/>
<circle cx="1553.6" cy="1043.6" r="12.5" fill="#f59b45" class="cc"/>
<circle cx="865" cy="1241.6" r="13.3" class="pl"/>
<circle cx="865" cy="1296" r="12.0" class="xe"/>
<circle cx="865" cy="1351.3" r="12.0" class="gc"/>
<path d="M865.0,1395.1 L876.3,1414.7 L853.7,1414.7Z" class="tr"/>
<path d="M865.0,1447.4 L877.2,1459.6 L865.0,1471.8 L852.8,1459.6Z" class="dm"/>
<circle cx="92.8" cy="1241.8" r="13.8" fill="#9b1b22" stroke="#1a1a1a" stroke-width="1.8"/>
<circle cx="92.8" cy="1296" r="13.8" fill="#1f2a5e" stroke="#1a1a1a" stroke-width="1.8"/>
<circle cx="92.8" cy="1351.1" r="13.8" fill="#c1c3e0" stroke="#1a1a1a" stroke-width="1.8"/>
<circle cx="92.8" cy="1404.7" r="13.8" fill="#a993c6" stroke="#1a1a1a" stroke-width="1.8"/>
<circle cx="92.8" cy="1459.3" r="13.8" fill="#66bb4a" stroke="#1a1a1a" stroke-width="1.8"/>
<circle cx="92.8" cy="1513.4" r="13.8" fill="#366a9a" stroke="#1a1a1a" stroke-width="1.8"/>
<circle cx="486.1" cy="1241.8" r="13.8" fill="#9c5aa6" stroke="#1a1a1a" stroke-width="1.8"/>
<circle cx="486.1" cy="1296" r="13.8" fill="#1aa34a" stroke="#1a1a1a" stroke-width="1.8"/>
<circle cx="486.1" cy="1351.1" r="13.8" fill="#f59b45" stroke="#1a1a1a" stroke-width="1.8"/>
<circle cx="486.1" cy="1404.7" r="13.8" fill="#ee3131" stroke="#1a1a1a" stroke-width="1.8"/>
<circle cx="486.1" cy="1459.3" r="13.8" fill="#2459a8" stroke="#1a1a1a" stroke-width="1.8"/>
</svg></body></html>
